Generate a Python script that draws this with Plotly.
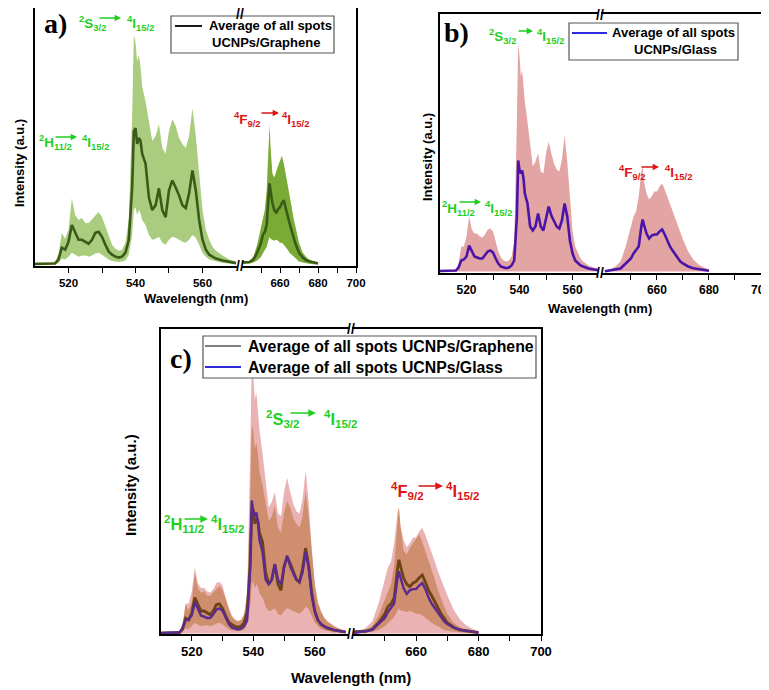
import plotly.graph_objects as go

# ---------------- data (intensity in arbitrary units) ----------------
WL_L = [510, 512, 514, 516, 517, 518, 519, 520, 521, 522, 523, 524, 525, 526, 527, 528, 529, 530,
        531, 532, 533, 534, 535, 536, 537, 538, 539, 539.5, 540, 540.5, 541, 541.5, 542, 543, 544,
        545, 546, 547, 548, 549, 550, 551, 552, 553, 554, 555, 556, 557, 558, 559, 560, 561, 562,
        563, 564, 566, 568, 570]
WL_R = [640, 642, 644, 646, 648, 650, 651, 652, 653, 654, 654.5, 655, 656, 657, 658, 659, 660, 661,
        662, 663, 664, 665, 666, 667, 668, 669, 670, 672, 674, 676, 678, 680]

graphene_avg_L = [0.4, 0.4, 0.5, 0.8, 3.8, 12.8, 11.3, 17.3, 30, 24, 18.8, 18.8, 17.3, 15.8, 18.8, 24,
                  24.8, 21, 15, 9.8, 7.5, 6, 5.3, 6, 9, 18.8, 58.5, 101, 103.5, 91.5, 96, 93.8, 84,
                  76.5, 51, 41.3, 45, 57.8, 41.3, 36, 56.3, 63.8, 58.5, 52.5, 45, 42.8, 54, 71.3, 56.3,
                  33.8, 18.8, 11.3, 7.5, 6, 4.5, 3, 1.9, 1.1]
graphene_up_L = [1.5, 1.5, 1.5, 2.3, 7.5, 24, 19.5, 26.3, 50.3, 37.5, 33.8, 35.3, 31.5, 31.5, 34.5,
                 37.5, 39.8, 36, 28.5, 21, 15, 12, 10.5, 11.3, 16.5, 33.8, 112.5, 174, 168.8, 153.8,
                 159, 150, 135, 123.8, 108.8, 93.8, 97.5, 106.5, 88.5, 84, 101.3, 110.3, 105, 96,
                 91.5, 88.5, 97.5, 118.5, 97.5, 67.5, 41.3, 26.3, 18.8, 13.5, 10.5, 6.8, 3.8, 2.3]
graphene_lo_L = [0, 0, 0, 0.2, 1.1, 4.5, 3.8, 6, 9, 7.5, 6, 6.8, 6.8, 6, 6.8, 8.3, 9, 7.5, 5.3, 3.8,
                 2.6, 2.3, 1.9, 2.3, 3, 7.5, 22.5, 41.3, 43.5, 37.5, 41.3, 39, 33.8, 30, 22.5, 18.8,
                 19.5, 21, 16.5, 15, 18.8, 21, 20.3, 18.8, 17.3, 16.5, 18.8, 22.5, 20.3, 15, 9, 6,
                 3.8, 3, 2.3, 1.1, 0.8, 0.4]
glass_avg_L = [0.5, 0.5, 0.5, 1, 4, 11, 12, 15, 26, 20, 15, 14, 13, 13, 16, 20, 21, 19, 13, 8, 5, 4,
               3.3, 4, 6, 11, 55, 111, 101, 98, 101, 93, 78, 68, 45, 41, 45, 58, 45, 41, 55, 65, 56,
               50, 45, 43, 51, 68, 55, 31, 18, 11, 8, 6, 5, 3, 2, 1.3]
glass_up_L = [1, 1, 1, 2, 8, 25, 25, 35, 55, 42, 38, 38, 35, 34, 37, 42, 43, 40, 30, 20, 14, 11, 10,
              11, 15, 30, 150, 228, 215, 195, 201, 185, 170, 150, 125, 105, 110, 118, 100, 98, 118,
              130, 118, 108, 102, 100, 112, 136, 110, 70, 40, 25, 18, 13, 10, 6, 4, 2]

graphene_avg_R = [1.5, 1.5, 1.9, 3.8, 9, 16.5, 22.5, 24.8, 30, 52.5, 61.5, 56.3, 46.5, 41.3, 39, 42,
                  43.5, 46.5, 48.8, 42.8, 36, 31.5, 26.3, 21, 16.5, 12.8, 9, 5.3, 3, 2.3, 1.5, 0.8]
graphene_up_R = [1.5, 1.9, 3, 6, 15, 28.5, 33.8, 41.3, 56.3, 93.8, 106.5, 90, 69, 66, 71.3, 75, 78.8,
                 82.5, 76.5, 69, 60, 52.5, 45, 36, 28.5, 22.5, 16.5, 9, 5.3, 3, 1.9, 1.1]
graphene_lo_R = [0.4, 0.4, 0.8, 1.5, 3, 6, 8.3, 11.3, 13.5, 18.8, 21, 19.5, 18.8, 18, 18.8, 18, 16.5,
                 16.5, 15, 13.5, 11.3, 9, 7.5, 6, 4.5, 3, 2.3, 1.5, 0.8, 0.4, 0.2, 0.2]
glass_avg_R = [0.3, 1, 1.7, 3, 8, 13, 18, 22, 25, 45, 52, 47, 38, 33, 36, 37, 37, 40, 42, 37, 30, 25,
               21, 17, 13, 10, 8, 5, 3.3, 2.3, 1.3, 0.7]
glass_up_R = [1, 2, 5, 10, 25, 45, 55, 60, 75, 100, 105, 90, 78, 72, 75, 80, 80, 85, 88, 82, 75, 68,
              60, 52, 45, 38, 32, 20, 12, 7, 4, 2]

TICKS_L = [520, 540, 560]
MINOR_L = [530, 550]
TICKS_R = [660, 680, 700]
MINOR_R = [650, 670, 690]

LEGEND_A = ["Average of all spots", "UCNPs/Graphene"]
LEGEND_B = ["Average of all spots", "UCNPs/Glass"]
LEGEND_C = ["Average of all spots UCNPs/Graphene", "Average of all spots UCNPs/Glass"]

# ---------------- helpers ----------------
OFF = 8                      # page body margin of the browser
W, H = 769 - OFF, 690 - OFF  # figure size so that it fits the window
FONT = "Liberation Sans, Arial, sans-serif"
GREEN_T = "#1fcf1f"
RED_T = "#dd1515"


def px(x):
    return (x - OFF) / W


def py(y):
    return 1 - (y - OFF) / H


fig = go.Figure()

panels = [
    dict(xl=(35, 238), xr=(242, 356), yd=(5, 266), rl=[510, 570.6], rr=[640, 700],
         yr=[-1.1, 194.6], tick=11.5),
    dict(xl=(440, 598), xr=(601, 761), yd=(14, 273), rl=[510, 569.6], rr=[638.5, 700],
         yr=[-1.5, 257.5], tick=12),
    dict(xl=(161, 349), xr=(352, 541), yd=(329, 634), rl=[510, 571.1], rr=[639.5, 700],
         yr=[-0.4, 254], tick=13),
]

layout_axes = {}
for i, p in enumerate(panels):
    nl = 2 * i + 1
    nr = 2 * i + 2
    ydom = [max(0, py(p["yd"][1])), min(1, py(p["yd"][0]))]
    common_x = dict(showline=True, linewidth=1.6, linecolor="black", mirror=True,
                    ticks="outside", ticklen=5, tickwidth=1.4, tickcolor="black",
                    showgrid=False, zeroline=False, automargin=False, tickmode="array",
                    ticklabeloverflow="allow",
                    tickfont=dict(family=FONT, size=p["tick"], color="black", weight="bold"))
    minor_common = dict(ticks="outside", ticklen=5, tickwidth=1.4, tickcolor="black",
                        showgrid=False, tickmode="array")
    layout_axes["xaxis" + ("" if nl == 1 else str(nl))] = dict(
        common_x, domain=[px(p["xl"][0]), px(p["xl"][1])], range=p["rl"],
        tickvals=TICKS_L, ticktext=[str(v) for v in TICKS_L],
        minor=dict(minor_common, tickvals=MINOR_L),
        anchor="y" + ("" if nl == 1 else str(nl)))
    layout_axes["xaxis" + str(nr)] = dict(
        common_x, domain=[px(p["xr"][0]), px(p["xr"][1])], range=p["rr"],
        tickvals=TICKS_R, ticktext=[str(v) for v in TICKS_R],
        minor=dict(minor_common, tickvals=MINOR_R),
        anchor="y" + str(nr))
    common_y = dict(domain=ydom, range=p["yr"], showline=True, linewidth=1.6, linecolor="black",
                    showticklabels=False, ticks="", showgrid=False, zeroline=False,
                    automargin=False)
    layout_axes["yaxis" + ("" if nl == 1 else str(nl))] = dict(
        common_y, anchor="x" + ("" if nl == 1 else str(nl)), side="left")
    layout_axes["yaxis" + str(nr)] = dict(
        common_y, anchor="x" + str(nr), side="right",
        matches="y" + ("" if nl == 1 else str(nl)))


def ax_ids(n):
    return ("x" if n == 1 else "x%d" % n), ("y" if n == 1 else "y%d" % n)


def band(n, wl, lo, up, color):
    xa, ya = ax_ids(n)
    fig.add_trace(go.Scatter(x=wl, y=lo, mode="lines", line=dict(width=0), xaxis=xa, yaxis=ya,
                             showlegend=False, hoverinfo="skip"))
    fig.add_trace(go.Scatter(x=wl, y=up, mode="lines", line=dict(width=0), fill="tonexty",
                             fillcolor=color, xaxis=xa, yaxis=ya, showlegend=False,
                             hoverinfo="skip"))


def band0(n, wl, up, color):
    xa, ya = ax_ids(n)
    fig.add_trace(go.Scatter(x=wl, y=up, mode="lines", line=dict(width=0), fill="tozeroy",
                             fillcolor=color, xaxis=xa, yaxis=ya, showlegend=False,
                             hoverinfo="skip"))


def line(n, wl, y, color, width):
    xa, ya = ax_ids(n)
    fig.add_trace(go.Scatter(x=wl, y=y, mode="lines", line=dict(color=color, width=width),
                             xaxis=xa, yaxis=ya, showlegend=False))


# panel a
band(1, WL_L, graphene_lo_L, graphene_up_L, "#a9cc7e")
line(1, WL_L, graphene_avg_L, "#3b5a17", 2.6)
band(2, WL_R, graphene_lo_R, graphene_up_R, "#7aab36")
line(2, WL_R, graphene_avg_R, "#3b5a17", 2.6)
# panel b
band0(3, WL_L, glass_up_L, "#e3a4a4")
line(3, WL_L, glass_avg_L, "#4b14a8", 2.6)
band0(4, WL_R, glass_up_R, "#e3a4a4")
line(4, WL_R, glass_avg_R, "#4b14a8", 2.6)
# panel c
for n, wl, gu, lo, up, ga, gl in [
    (5, WL_L, glass_up_L, graphene_lo_L, graphene_up_L, graphene_avg_L, glass_avg_L),
    (6, WL_R, glass_up_R, graphene_lo_R, graphene_up_R, graphene_avg_R, glass_avg_R),
]:
    band0(n, wl, gu, "#eab2b2")
    band(n, wl, lo, up, "rgba(180,105,40,0.5)")
    line(n, wl, ga, "#6e4216", 2.8)
    line(n, wl, gl, "#5a2a90", 2.4)

annotations = []
shapes = []


def text(x, y, t, size, color="black", xanchor="left", angle=0, family=FONT, bold=True):
    annotations.append(dict(x=px(x), y=py(y), xref="paper", yref="paper", text=t,
                            showarrow=False, xanchor=xanchor, yanchor="middle",
                            textangle=angle,
                            font=dict(family=family, size=size, color=color,
                                      weight="bold" if bold else "normal")))


def arrow(x0, x1, y, color, size):
    annotations.append(dict(x=px(x1), y=py(y), xref="paper", yref="paper", text="",
                            showarrow=True, ax=-(x1 - x0), ay=0, arrowhead=2,
                            arrowsize=0.9 if size < 15 else 1.1, arrowwidth=1.4,
                            arrowcolor=color, standoff=0))


def transition(xl, yc, left, ax0, ax1, ay, xr, right, color, size):
    text(xl, yc, left, size, color)
    arrow(ax0, ax1, ay, color, size)
    text(xr, yc, right, size, color)


S32 = "<sup>2</sup>S<sub>3/2</sub>"
H112 = "<sup>2</sup>H<sub>11/2</sub>"
F92 = "<sup>4</sup>F<sub>9/2</sub>"
I152 = "<sup>4</sup>I<sub>15/2</sub>"

# panel a labels
transition(77, 23, S32, 98, 121, 18, 125, I152, GREEN_T, 13.5)
transition(37, 142, H112, 54, 77, 137, 80, I152, GREEN_T, 13.5)
transition(232, 119, F92, 260, 279, 113, 280, I152, RED_T, 13.5)
# panel b labels
transition(487, 36, S32, 517, 533, 31, 535, I152, GREEN_T, 13.5)
transition(440, 208, H112, 458, 481, 202, 483, I152, GREEN_T, 13.5)
transition(617, 172, F92, 640, 659, 167, 663, I152, RED_T, 13.5)
# panel c labels
transition(264, 419, S32, 289, 316, 413, 322, I152, GREEN_T, 16.5)
transition(162, 524, H112, 183, 208, 519, 209, I152, GREEN_T, 16.5)
transition(389, 491, F92, 417, 443, 486, 444, I152, RED_T, 16.5)

# panel letters
SERIF = "Liberation Serif, Times New Roman, serif"
text(55, 24, "a)", 28, xanchor="center", family=SERIF)
text(456, 33, "b)", 28, xanchor="center", family=SERIF)
text(181, 358, "c)", 28, xanchor="center", family=SERIF)

# axis titles
text(196, 298, "Wavelength (nm)", 13, xanchor="center")
text(600, 308, "Wavelength (nm)", 13, xanchor="center")
text(351, 677, "Wavelength (nm)", 15, xanchor="center")
text(19, 163, "Intensity (a.u.)", 13, xanchor="center", angle=-90)
text(427, 157, "Intensity (a.u.)", 13, xanchor="center", angle=-90)
text(130, 485, "Intensity (a.u.)", 15, xanchor="center", angle=-90)

# axis break marks
for bx, ys in [(240, (14, 266)), (599.5, (15, 273)), (350.5, (329, 634))]:
    for yy in ys:
        text(bx, yy, "//", 14, xanchor="center")


# legends (drawn)
def rect(x0, y0, x1, y1):
    shapes.append(dict(type="rect", xref="paper", yref="paper", x0=px(x0), x1=px(x1),
                       y0=py(y1), y1=py(y0), line=dict(color="#555555", width=1.2),
                       fillcolor="white", layer="above"))


def hline(x0, x1, y, color, width):
    shapes.append(dict(type="line", xref="paper", yref="paper", x0=px(x0), x1=px(x1),
                       y0=py(y), y1=py(y), line=dict(color=color, width=width), layer="above"))


rect(171, 16, 334, 53)
hline(175, 202, 26, "#1a1a1a", 2)
text(207, 26, LEGEND_A[0], 13)
text(210, 43, LEGEND_A[1], 13)

rect(569, 23, 738, 60)
hline(572, 607, 33, "#2b2be0", 2)
text(610, 33, LEGEND_B[0], 13)
text(632, 50, LEGEND_B[1], 13)

rect(203, 336, 536, 378)
hline(205, 241, 346, "#555555", 1.5)
hline(205, 241, 367, "#2b2bd8", 2)
text(246, 346, LEGEND_C[0], 15.8)
text(246, 367, LEGEND_C[1], 15.8)

fig.update_layout(width=W, height=H, autosize=False,
                  margin=dict(l=0, r=0, t=0, b=0),
                  paper_bgcolor="white", plot_bgcolor="white",
                  showlegend=False, annotations=annotations, shapes=shapes,
                  **layout_axes)

fig.write_html("out.html")
